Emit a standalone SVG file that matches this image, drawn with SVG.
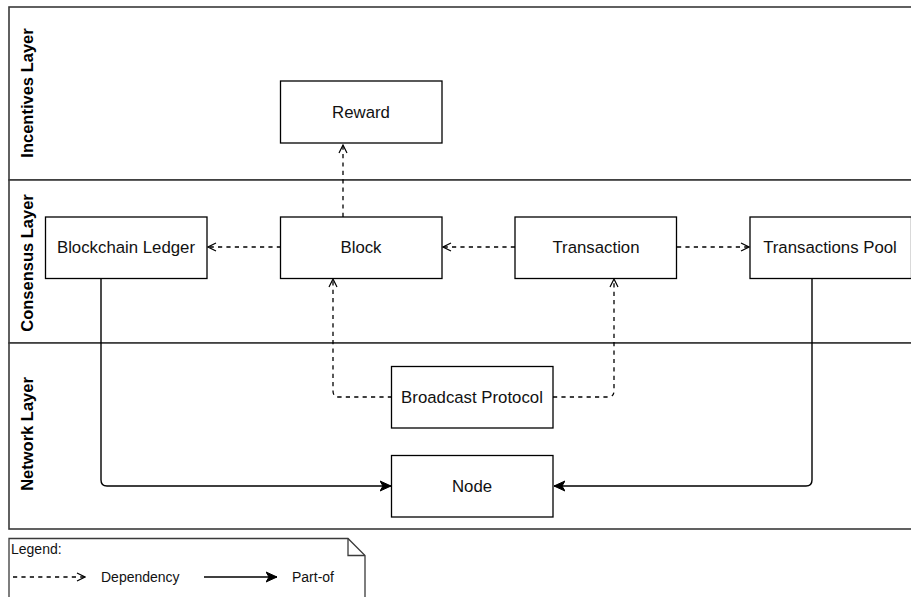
<svg xmlns="http://www.w3.org/2000/svg" width="911" height="597" viewBox="0 0 911 597">
<defs>
<marker id="open" viewBox="0 0 10 10" refX="9" refY="5" markerWidth="10" markerHeight="10" markerUnits="userSpaceOnUse" orient="auto">
<path d="M1,1 L9,5 L1,9" fill="none" stroke="#000" stroke-width="1.2"/>
</marker>
<marker id="fill" viewBox="0 0 12 12" refX="11" refY="6" markerWidth="12" markerHeight="12" markerUnits="userSpaceOnUse" orient="auto">
<path d="M0,1 L11,6 L0,11 L3,6 Z" fill="#000" stroke="#000" stroke-width="1"/>
</marker>
</defs>
<style>
.lane{fill:#fff;stroke:#3a3a3a;stroke-width:1.6}
.lab{font-family:"Liberation Sans",Arial,sans-serif;font-weight:bold;font-size:16.5px;fill:#000;text-anchor:middle}
.box{fill:#fff;stroke:#000;stroke-width:1.3}
.t{font-family:"Liberation Sans",Arial,sans-serif;font-size:16.8px;fill:#111;text-anchor:middle}
.dep{fill:none;stroke:#000;stroke-width:1.3;stroke-dasharray:4.2 4.2;marker-end:url(#open)}
.part{fill:none;stroke:#000;stroke-width:1.4;marker-end:url(#fill)}
.lt{font-family:"Liberation Sans",Arial,sans-serif;font-size:14px;fill:#111}
</style>
<rect width="911" height="597" fill="#fff"/>
<g id="lane-incentives">
<rect class="lane" x="9" y="7" width="920" height="173"/>
<text class="lab" transform="translate(33,93) rotate(-90)">Incentives Layer</text>
</g>
<g id="lane-consensus">
<rect class="lane" x="9" y="180" width="920" height="163"/>
<text class="lab" transform="translate(33,263) rotate(-90)">Consensus Layer</text>
</g>
<g id="lane-network">
<rect class="lane" x="9" y="343" width="920" height="186"/>
<text class="lab" transform="translate(33,434) rotate(-90)">Network Layer</text>
</g>
<g id="connectors">
<path class="dep" d="M343,217 L343,145"/>
<path class="dep" d="M281,247 L208,247"/>
<path class="dep" d="M515,247 L443,247"/>
<path class="dep" d="M677,247 L749,247"/>
<path class="dep" d="M392,397 L339,397 Q333,397 333,391 L333,279"/>
<path class="dep" d="M553,397 L608,397 Q614,397 614,391 L614,279"/>
<path class="part" d="M101,278 L101,480 Q101,486 107,486 L391,486"/>
<path class="part" d="M812,278 L812,480 Q812,486 806,486 L554,486"/>
</g>
<g id="node-reward">
<rect class="box" x="280.5" y="81" width="161.5" height="62"/>
<text class="t" x="361" y="118">Reward</text>
</g>
<g id="node-ledger">
<rect class="box" x="45.5" y="217" width="161.5" height="61.5"/>
<text class="t" x="126" y="253">Blockchain Ledger</text>
</g>
<g id="node-block">
<rect class="box" x="280.5" y="217" width="161.5" height="61.5"/>
<text class="t" x="361" y="253">Block</text>
</g>
<g id="node-transaction">
<rect class="box" x="515" y="217" width="161.5" height="61.5"/>
<text class="t" x="596" y="253">Transaction</text>
</g>
<g id="node-pool">
<rect class="box" x="750" y="217" width="161.5" height="61.5"/>
<text class="t" x="830" y="253">Transactions Pool</text>
</g>
<g id="node-broadcast">
<rect class="box" x="391.5" y="366.5" width="161.5" height="61.5"/>
<text class="t" x="472" y="403">Broadcast Protocol</text>
</g>
<g id="node-node">
<rect class="box" x="391.5" y="455.5" width="161.5" height="61.5"/>
<text class="t" x="472" y="492">Node</text>
</g>
<g id="legend">
<path d="M9,538.5 L348,538.5 L365,555.5 L365,610 L9,610 Z" fill="#fff" stroke="#3a3a3a" stroke-width="1.3"/>
<path d="M348,538.5 L348,555.5 L365,555.5" fill="none" stroke="#3a3a3a" stroke-width="1.3"/>
<text class="lt" x="11" y="554">Legend:</text>
<path class="dep" d="M13,577 L85,577" stroke-width="1.1"/>
<text class="lt" x="101" y="582">Dependency</text>
<path class="part" d="M204,577 L277,577"/>
<text class="lt" x="292" y="582">Part-of</text>
</g>
</svg>
